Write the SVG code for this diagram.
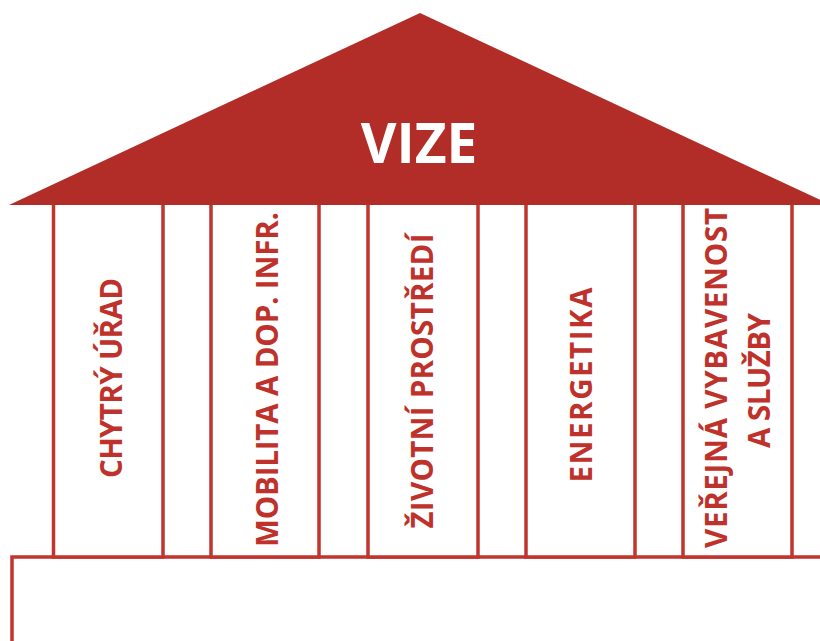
<svg xmlns="http://www.w3.org/2000/svg" width="820" height="641" viewBox="0 0 820 641">
<style>
.col{fill:#fff;stroke:#C0352E;stroke-width:3.5}
.lbl{fill:#BE322B;font-family:"Open Sans","Liberation Sans",sans-serif;font-weight:bold;font-size:29.5px;text-anchor:middle}
.title{fill:#fff;font-family:"Open Sans","Liberation Sans",sans-serif;font-weight:bold;font-size:55px;text-anchor:middle}
</style>
<rect width="820" height="641" fill="#fff"/>
<g id="base"><rect x="12" y="557" width="830" height="120" fill="#fff" stroke="#C0352E" stroke-width="3.5"/></g>
<g id="col1"><rect class="col" x="53.5" y="200" width="109.5" height="357"/><text class="lbl" transform="translate(122,378) rotate(-90)" textLength="200" lengthAdjust="spacing">CHYTRÝ ÚŘAD</text></g>
<g id="col2"><rect class="col" x="211" y="200" width="108" height="357"/><text class="lbl" transform="translate(278,379.5) rotate(-90)" textLength="335" lengthAdjust="spacing">MOBILITA A DOP. INFR.</text></g>
<g id="col3"><rect class="col" x="368" y="200" width="110" height="357"/><text class="lbl" transform="translate(433,381) rotate(-90)" textLength="295" lengthAdjust="spacing">ŽIVOTNÍ PROSTŘEDÍ</text></g>
<g id="col4"><rect class="col" x="526" y="200" width="109" height="357"/><text class="lbl" transform="translate(592,385) rotate(-90)" textLength="195" lengthAdjust="spacing">ENERGETIKA</text></g>
<g id="col5"><rect class="col" x="683" y="200" width="109" height="357"/><text class="lbl" transform="translate(727,378) rotate(-90)" textLength="340" lengthAdjust="spacing">VEŘEJNÁ VYBAVENOST</text><text class="lbl" transform="translate(770,380.5) rotate(-90)" textLength="135" lengthAdjust="spacing">A SLUŽBY</text></g>
<g id="roof"><polygon points="9,205 420,13 831,205" fill="#B32D28"/><text class="title" x="419" y="163">VIZE</text></g>
</svg>
